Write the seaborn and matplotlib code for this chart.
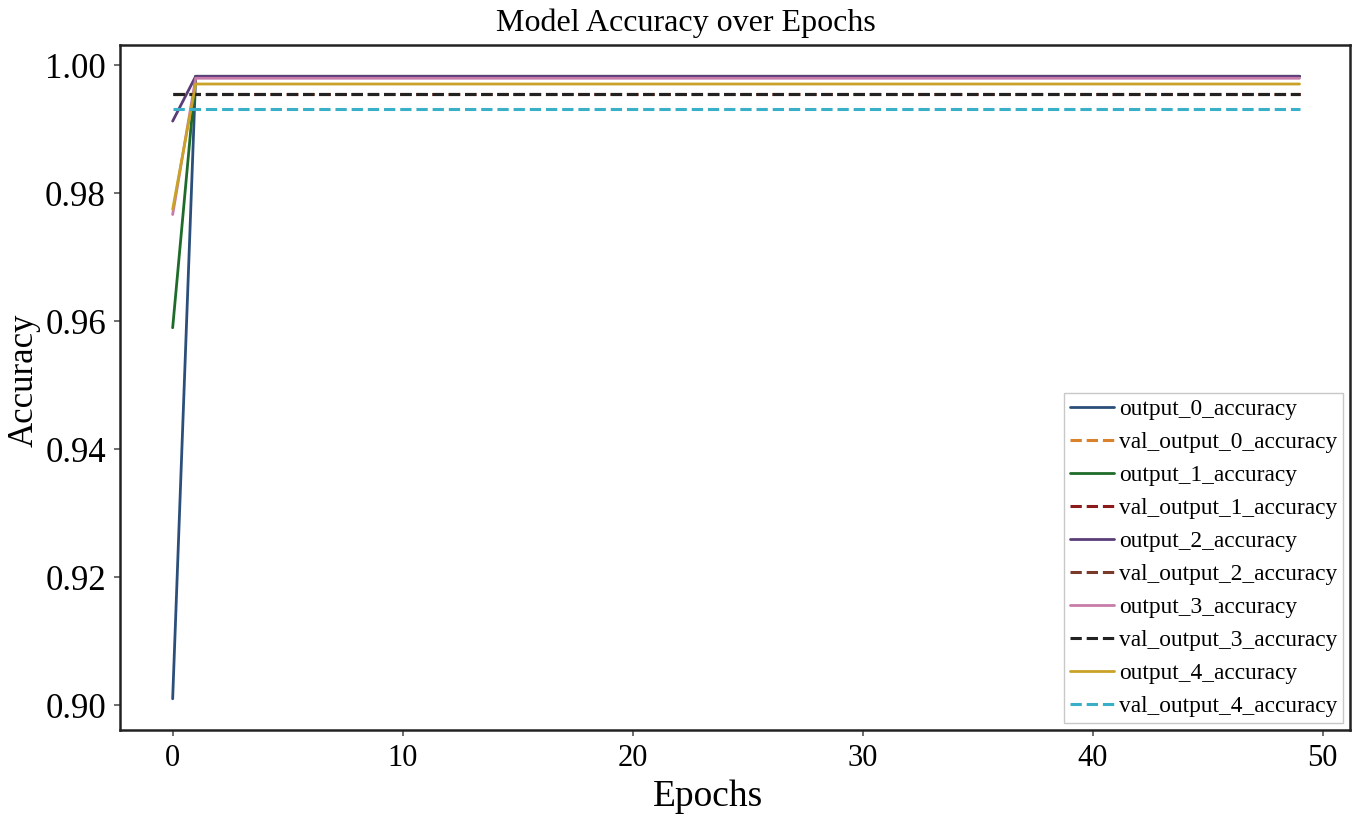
import numpy as np
import pandas as pd
import matplotlib
matplotlib.use("Agg")
import matplotlib.pyplot as plt
import seaborn as sns

epochs = list(range(50))

output_0_start, output_0_rest = 0.901, 0.9983
output_1_start, output_1_rest = 0.959, 0.9983
output_2_start, output_2_rest = 0.9913, 0.9983
output_3_start, output_3_rest = 0.9767, 0.9980
output_4_start, output_4_rest = 0.9775, 0.9971
val_output_0 = 0.9956
val_output_1 = 0.9956
val_output_2 = 0.9956
val_output_3 = 0.9956
val_output_4 = 0.9932

series_names = ["output_0_accuracy", "val_output_0_accuracy",
                "output_1_accuracy", "val_output_1_accuracy",
                "output_2_accuracy", "val_output_2_accuracy",
                "output_3_accuracy", "val_output_3_accuracy",
                "output_4_accuracy", "val_output_4_accuracy"]
colors = ["#2b4f7a", "#d9822b", "#1f6b2a", "#8b1a1a", "#5a3c78",
          "#7a3a2a", "#c77ba8", "#222222", "#c9a227", "#3ab0c8"]

def curve(start, rest):
    return [start] + [rest] * (len(epochs) - 1)

values = {
    "output_0_accuracy": curve(output_0_start, output_0_rest),
    "val_output_0_accuracy": [val_output_0] * len(epochs),
    "output_1_accuracy": curve(output_1_start, output_1_rest),
    "val_output_1_accuracy": [val_output_1] * len(epochs),
    "output_2_accuracy": curve(output_2_start, output_2_rest),
    "val_output_2_accuracy": [val_output_2] * len(epochs),
    "output_3_accuracy": curve(output_3_start, output_3_rest),
    "val_output_3_accuracy": [val_output_3] * len(epochs),
    "output_4_accuracy": curve(output_4_start, output_4_rest),
    "val_output_4_accuracy": [val_output_4] * len(epochs),
}

sns.set_style("white")
plt.rcParams["font.family"] = ["Liberation Serif", "DejaVu Serif"]
plt.rcParams["text.color"] = "black"
plt.rcParams["axes.labelcolor"] = "black"
plt.rcParams["xtick.color"] = "black"
plt.rcParams["ytick.color"] = "black"

fig = plt.figure(figsize=(13.61, 8.22), dpi=100)
ax = fig.add_axes([0.088, 0.112, 0.904, 0.833])

for name, col in zip(series_names, colors):
    is_val = name.startswith("val")
    sns.lineplot(x=epochs, y=values[name], ax=ax, color=col,
                 linestyle="--" if is_val else "-",
                 linewidth=2.2 if is_val else 2.0, label=name)

ax.set_title("Model Accuracy over Epochs", fontsize=23, pad=10, x=0.46, color="black")
ax.set_xlabel("Epochs", fontsize=27)
ax.xaxis.set_label_coords(0.478, -0.072)
ax.set_ylabel("Accuracy", fontsize=25)
ax.yaxis.set_label_coords(-0.064, 0.51)
ax.set_xticks([0, 10, 20, 30, 40, 50])
ax.set_yticks([0.90, 0.92, 0.94, 0.96, 0.98, 1.00])
ax.set_yticklabels(["0.90", "0.92", "0.94", "0.96", "0.98", "1.00"])
ax.tick_params(axis="x", labelsize=22, length=4, width=1.2, color="#555555",
               labelcolor="black", direction="out", bottom=True, pad=6)
ax.tick_params(axis="y", labelsize=25, length=4, width=1.2, color="#555555",
               labelcolor="black", direction="out", left=True, pad=6)
for s in ax.spines.values():
    s.set_color("#222222")
    s.set_linewidth(1.8)
ax.set_xlim(-2.3, 51.2)
ax.margins(y=0.05)

leg = ax.legend(loc="lower right", fontsize=16.8, frameon=True, fancybox=False,
                handlelength=1.9, handletextpad=0.2, labelspacing=0.5,
                borderpad=0.25, borderaxespad=0.3)
leg.get_frame().set_edgecolor("#bbbbbb")
for t in leg.get_texts():
    t.set_color("black")

fig.savefig("out.png", dpi=100)
